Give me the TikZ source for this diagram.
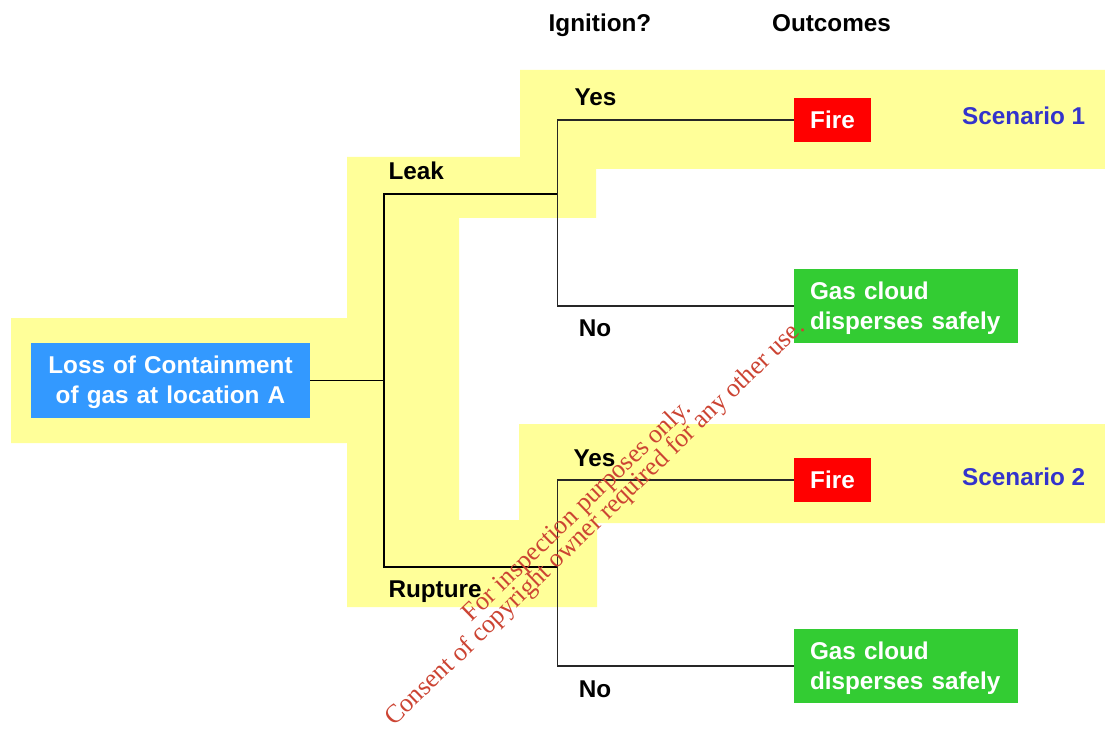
\documentclass[tikz,border=0pt]{standalone}
\usepackage{fontspec}
\setmainfont{Liberation Sans}
\newfontfamily\wmfont{Liberation Serif}
\definecolor{hl}{RGB}{255,255,153}
\definecolor{lossblue}{RGB}{51,153,255}
\definecolor{firered}{RGB}{255,0,0}
\definecolor{gasgreen}{RGB}{51,204,51}
\definecolor{scenblue}{RGB}{51,51,204}
\definecolor{wmred}{RGB}{204,68,51}
\begin{document}
\begin{tikzpicture}[x=1pt,y=-1pt,
  lbl/.style={inner sep=0pt, font=\fontsize{24.3}{30}\selectfont\bfseries},
  box/.style={inner ysep=0pt, font=\fontsize{24.3}{30}\selectfont\bfseries, text=white},
  mainline/.style={line width=2pt, black},
  ignline/.style={line width=1.6pt, black!85},
  wm/.style={inner sep=0pt, anchor=base, rotate=44, text=wmred, font=\wmfont\fontsize{26}{30}\selectfont}]
\useasboundingbox (0,0) rectangle (1105,735);
% highlighted band
\fill[hl] (11,318) -- (347,318) -- (347,157) -- (520,157) -- (520,70) -- (1105,70) -- (1105,169)
  -- (596,169) -- (596,218) -- (459,218) -- (459,520) -- (519,520) -- (519,424) -- (1105,424)
  -- (1105,523) -- (597,523) -- (597,607) -- (347,607) -- (347,443) -- (11,443) -- cycle;
% headers
\node[lbl, anchor=base] (hign) at (600,31.5) {Ignition?};
\node[lbl, anchor=base] (hout) at (831.5,31.5) {Outcomes};
% boxes
\node[box, fill=lossblue, minimum height=75pt, text width=271pt, inner xsep=4pt, align=center] (loss) at (170.5,380.5) {\rule{0pt}{22pt}Loss of Containment\\of gas at location A};
\node[box, fill=firered, minimum width=77pt, minimum height=44pt, inner xsep=0pt] (fire1) at (832.5,120) {Fire};
\node[box, fill=firered, minimum width=77pt, minimum height=44pt, inner xsep=0pt] (fire2) at (832.5,480) {Fire};
\node[box, fill=gasgreen, minimum height=74pt, text width=192pt, inner xsep=16pt, align=left] (gas1) at (906,306) {\rule{0pt}{22pt}Gas cloud\\disperses safely};
\node[box, fill=gasgreen, minimum height=74pt, text width=192pt, inner xsep=16pt, align=left] (gas2) at (906,666) {\rule{0pt}{22pt}Gas cloud\\disperses safely};
% junctions
\coordinate (j1) at (384,380.5);
\coordinate (j2) at (557.5,194);
\coordinate (j3) at (557.5,566.5);
% connectors
\draw[line width=1.5pt] (loss.east) -- (j1);
\draw[mainline] (j2) -- (j2 -| j1) -- (j3 -| j1) -- (j3);
\draw[ignline] (fire1.west) -| (j2) |- (gas1.west);
\draw[ignline] (fire2.west) -| (j3) |- (gas2.west);
% branch labels
\node[lbl, anchor=base west] (leak) at (388.3,179.8) {Leak};
\node[lbl, anchor=base west] (rupt) at (388.3,597.5) {Rupture};
\node[lbl, anchor=base] (yes1) at (595.5,106) {Yes};
\node[lbl, anchor=base] (no1) at (595,336) {No};
\node[lbl, anchor=base] (yes2) at (594.5,466) {Yes};
\node[lbl, anchor=base] (no2) at (595,697) {No};
\node[lbl, anchor=base west, text=scenblue] (sc1) at (962,125) {Scenario 1};
\node[lbl, anchor=base west, text=scenblue] (sc2) at (962,485) {Scenario 2};
% watermark
\node[wm] (wm1) at (582,516) {For inspection purposes only.};
\node[wm] (wm2) at (600,528) {Consent of copyright owner required for any other use.};
\end{tikzpicture}
\end{document}
